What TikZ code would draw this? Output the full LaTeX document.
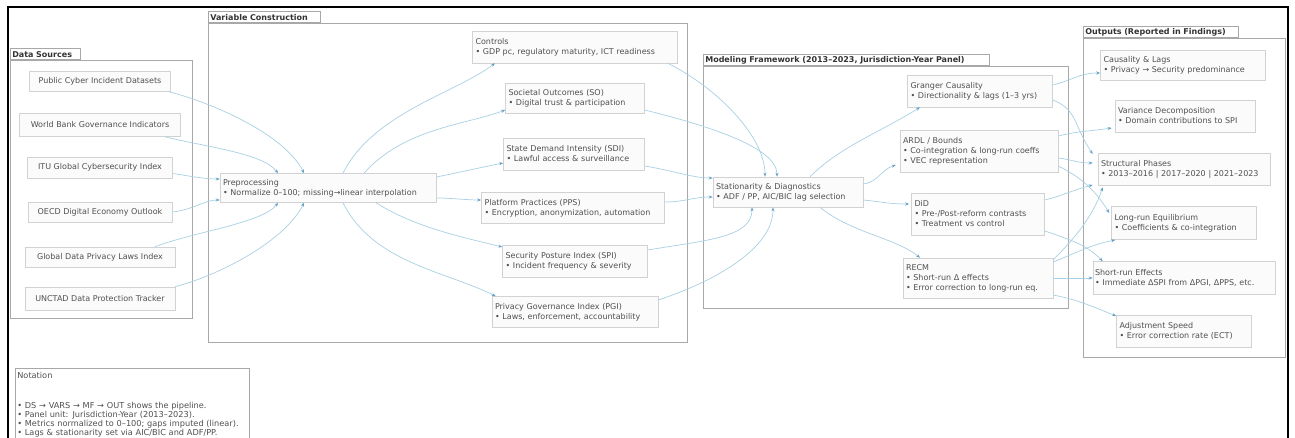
\documentclass[tikz,border=0pt]{standalone}
\usepackage{fontspec}
\setmainfont{DejaVu Sans}
\usetikzlibrary{arrows.meta}
\definecolor{edgec}{HTML}{A9D0E4}
\definecolor{tipc}{HTML}{5E9EC4}
\definecolor{nodeb}{HTML}{D2D2D2}
\definecolor{nodef}{HTML}{FBFBFB}
\definecolor{txtc}{HTML}{505050}
\definecolor{clb}{HTML}{A8A8A8}
\newcommand{\nodefont}{\fontsize{8}{10}\selectfont}
\newcommand{\tabfont}{\fontsize{8}{9}\selectfont\bfseries}
\newcommand{\notefont}{\fontsize{8.2}{9}\selectfont}
\begin{document}
\begin{tikzpicture}[x=1pt,y=-1pt,
  box/.style={draw=nodeb, fill=nodef, line width=0.6pt, align=left, font=\nodefont, text=txtc, inner xsep=3pt, inner ysep=2pt},
  dsbox/.style={box, align=center, inner xsep=1pt},
  clus/.style={draw=clb, line width=0.7pt},
  tabl/.style={draw=clb, line width=0.6pt, fill=white, font=\tabfont, text=black!80, anchor=south west, align=left, inner xsep=2pt, inner ysep=1.5pt, minimum height=11pt},
  edge/.style={draw=edgec, line width=0.7pt, -{Stealth[length=4pt,width=3pt,fill=tipc,color=tipc]}}
]
\clip (0,0) rectangle (1295,438);
\fill[white] (0,0) rectangle (1295,438);
\draw[black, line width=1.3pt] (8,460) -- (8,7) -- (1288,7) -- (1288,460);

% clusters
\draw[clus] (10,60) rectangle (192,318);
\node[tabl, text width=66pt] (dsTab) at (10,60) {Data Sources};
\draw[clus] (208,23) rectangle (687,342);
\node[tabl, text width=108pt] (vcTab) at (208,23) {Variable Construction};
\draw[clus] (703,66) rectangle (1068,308);
\node[tabl, text width=282pt] (mfTab) at (703,66) {Modeling Framework (2013–2023, Jurisdiction-Year Panel)};
\draw[clus] (1083,38) rectangle (1285,357);
\node[tabl, text width=151pt] (outTab) at (1083,38) {Outputs (Reported in Findings)};

% data sources
\node[dsbox, minimum width=141pt, minimum height=20pt] (pcid) at (100,81.5) {Public Cyber Incident Datasets};
\node[dsbox, minimum width=161pt, minimum height=23pt] (wbgi) at (100,125) {World Bank Governance Indicators};
\node[dsbox, minimum width=145pt, minimum height=21pt] (itu) at (100,167.5) {ITU Global Cybersecurity Index};
\node[dsbox, minimum width=144pt, minimum height=20pt] (oecd) at (100,212) {OECD Digital Economy Outlook};
\node[dsbox, minimum width=150pt, minimum height=20pt] (gdpl) at (100,257) {Global Data Privacy Laws Index};
\node[dsbox, minimum width=150pt, minimum height=23pt] (unctad) at (100,298.5) {UNCTAD Data Protection Tracker};

% variable construction
\node[box, text width=210pt, minimum height=29pt] (prep) at (328,188) {Preprocessing\\• Normalize 0–100; missing→linear interpolation};
\node[box, text width=199pt, minimum height=32pt] (ctrl) at (575,47) {Controls\\• GDP pc, regulatory maturity, ICT readiness};
\node[box, text width=133pt, minimum height=30pt] (so) at (575,98) {Societal Outcomes (SO)\\• Digital trust \& participation};
\node[box, text width=135pt, minimum height=32pt] (sdi) at (574,154) {State Demand Intensity (SDI)\\• Lawful access \& surveillance};
\node[box, text width=177pt, minimum height=31pt] (pps) at (573,208) {Platform Practices (PPS)\\• Encryption, anonymization, automation};
\node[box, text width=139pt, minimum height=32pt] (spi) at (575,261) {Security Posture Index (SPI)\\• Incident frequency \& severity};
\node[box, text width=160pt, minimum height=31pt] (pgi) at (575,312) {Privacy Governance Index (PGI)\\• Laws, enforcement, accountability};

% modeling framework
\node[box, text width=144pt, minimum height=30pt] (stat) at (788,192) {Stationarity \& Diagnostics\\• ADF / PP, AIC/BIC lag selection};
\node[box, text width=139pt, minimum height=32pt] (granger) at (980,91) {Granger Causality\\• Directionality \& lags (1–3 yrs)};
\node[box, text width=152pt, minimum height=42pt] (ardl) at (979,151) {ARDL / Bounds\\• Co-integration \& long-run coeffs\\• VEC representation};
\node[box, text width=127pt, minimum height=42pt] (did) at (978,214) {DiD\\• Pre-/Post-reform contrasts\\• Treatment vs control};
\node[box, text width=144pt, minimum height=40pt] (recm) at (978,278) {RECM\\• Short-run Δ effects\\• Error correction to long-run eq.};

% outputs
\node[box, text width=159pt, minimum height=30pt] (cl) at (1183,65) {Causality \& Lags\\• Privacy → Security predominance};
\node[box, text width=134pt, minimum height=32pt] (vd) at (1185,116) {Variance Decomposition\\• Domain contributions to SPI};
\node[box, text width=166pt, minimum height=32pt] (sp) at (1184,169) {Structural Phases\\• 2013–2016 | 2017–2020 | 2021–2023};
\node[box, text width=139pt, minimum height=33pt] (lre) at (1184,223) {Long-run Equilibrium\\• Coefficients \& co-integration};
\node[box, text width=178pt, inner xsep=2pt, minimum height=33pt] (sre) at (1184,278) {Short-run Effects\\• Immediate ΔSPI from ΔPGI, ΔPPS, etc.};
\node[box, text width=129pt, minimum height=32pt] (as) at (1184,331) {Adjustment Speed\\• Error correction rate (ECT)};

% notation
\node[draw=clb, line width=0.7pt, fill=white, align=left, font=\notefont, text=txtc, anchor=north west, inner xsep=2pt, inner ysep=4pt, text width=230pt] (note) at (15,368) {Notation\\[21pt]• DS → VARS → MF → OUT shows the pipeline.\\• Panel unit: Jurisdiction-Year (2013–2023).\\• Metrics normalized to 0–100; gaps imputed (linear).\\• Lags \& stationarity set via AIC/BIC and ADF/PP.};

% DS -> prep
\draw[edge] ([shift={(69,0)}]pcid.south) .. controls +(40,10) and +(-20,-40) .. ([shift={(-24,0)}]prep.north);
\draw[edge] ([shift={(65,0)}]wbgi.south) .. controls +(40,10) and +(-15,-20) .. ([shift={(-50,0)}]prep.north);
\draw[edge] ([shift={(0,6)}]itu.east) .. controls +(20,3) and +(-15,0) .. ([shift={(0,-9)}]prep.west);
\draw[edge] (oecd.east) .. controls +(20,-2) and +(-15,0) .. ([shift={(0,12)}]prep.west);
\draw[edge] ([shift={(55,0)}]gdpl.north) .. controls +(40,-15) and +(-15,20) .. ([shift={(-50,0)}]prep.south);
\draw[edge] ([shift={(75,0)}]unctad.north) .. controls +(40,-10) and +(-20,40) .. ([shift={(-24,0)}]prep.south);

% prep -> variables
\draw[edge] ([shift={(15,0)}]prep.north) .. controls +(30,-60) and +(-40,30) .. ([shift={(-80,0)}]ctrl.south);
\draw[edge] ([shift={(36,0)}]prep.north) .. controls +(40,-45) and +(-40,15) .. ([shift={(0,12)}]so.west);
\draw[edge] ([shift={(0,-11)}]prep.east) .. controls +(25,-5) and +(-25,5) .. ([shift={(0,9)}]sdi.west);
\draw[edge] ([shift={(0,10)}]prep.east) .. controls +(15,0) and +(-15,0) .. ([shift={(0,-8)}]pps.west);
\draw[edge] ([shift={(48,0)}]prep.south) .. controls +(40,25) and +(-40,-10) .. ([shift={(0,-14)}]spi.west);
\draw[edge] ([shift={(15,0)}]prep.south) .. controls +(30,60) and +(-50,-25) .. ([shift={(4,0)}]pgi.north west);

% variables -> stat
\draw[edge] ([shift={(-10,0)}]ctrl.south east) .. controls +(50,25) and +(0,-40) .. ([shift={(-23,0)}]stat.north);
\draw[edge] ([shift={(0,12)}]so.east) .. controls +(60,15) and +(0,-30) .. ([shift={(-11,0)}]stat.north);
\draw[edge] ([shift={(0,12)}]sdi.east) .. controls +(30,5) and +(-20,0) .. ([shift={(0,-14)}]stat.west);
\draw[edge] ([shift={(0,-6)}]pps.east) .. controls +(20,0) and +(-20,0) .. ([shift={(0,5)}]stat.west);
\draw[edge] ([shift={(0,-11)}]spi.east) .. controls +(60,-10) and +(0,30) .. ([shift={(-36,0)}]stat.south);
\draw[edge] ([shift={(0,-12)}]pgi.east) .. controls +(60,-20) and +(0,40) .. ([shift={(-15,0)}]stat.south);

% stat -> models
\draw[edge] ([shift={(22,0)}]stat.north) .. controls +(30,-30) and +(-40,25) .. ([shift={(-60,0)}]granger.south);
\draw[edge] ([shift={(0,-8)}]stat.east) .. controls +(15,-2) and +(-15,5) .. ([shift={(-4,14)}]ardl.west);
\draw[edge] ([shift={(0,8)}]stat.east) .. controls +(20,2) and +(-20,0) .. ([shift={(-2,-10)}]did.west);
\draw[edge] ([shift={(32,0)}]stat.south) .. controls +(30,25) and +(-25,-20) .. ([shift={(-58,0)}]recm.north);

% models -> outputs
\draw[edge] ([shift={(0,-6)}]granger.east) .. controls +(20,-5) and +(-20,0) .. ([shift={(0,8)}]cl.west);
\draw[edge] ([shift={(0,9)}]granger.east) .. controls +(25,10) and +(-20,-30) .. ([shift={(-5,-15)}]sp.west);
\draw[edge] ([shift={(0,-15)}]ardl.east) .. controls +(20,-5) and +(-20,3) .. ([shift={(-3,12)}]vd.west);
\draw[edge] ([shift={(0,7)}]ardl.east) .. controls +(15,2) and +(-15,0) .. ([shift={(-5,-6)}]sp.west);
\draw[edge] ([shift={(0,15)}]ardl.east) .. controls +(20,10) and +(-15,-25) .. ([shift={(-2,-10)}]lre.west);
\draw[edge] ([shift={(0,-14)}]did.east) .. controls +(20,-5) and +(-20,5) .. ([shift={(-5,16)}]sp.west);
\draw[edge] ([shift={(0,17)}]did.east) .. controls +(30,10) and +(-15,-15) .. ([shift={(10,0)}]sre.north west);
\draw[edge] ([shift={(0,2)}]recm.north east) .. controls +(20,-20) and +(-10,30) .. ([shift={(5,2)}]sp.south west);
\draw[edge] ([shift={(0,-16)}]recm.east) .. controls +(25,-10) and +(-25,5) .. ([shift={(4,17)}]lre.west);
\draw[edge] (recm.east) -- (sre.west);
\draw[edge] ([shift={(0,17)}]recm.east) .. controls +(25,5) and +(-25,-10) .. ([shift={(0,-15)}]as.west);
\end{tikzpicture}
\end{document}
